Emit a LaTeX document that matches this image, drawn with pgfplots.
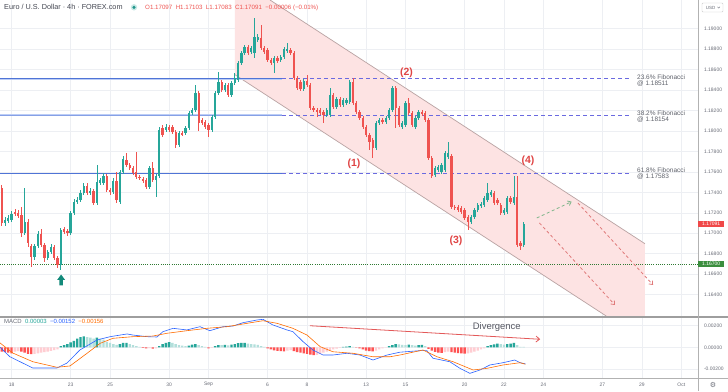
\documentclass[border=0pt]{standalone}
\usepackage{fontspec}
\setmainfont{Liberation Sans}
\newfontfamily\dejavu{DejaVu Sans}
\usepackage{pgfplots}
\pgfplotsset{compat=1.18}
\usepackage{pgfplotstable}
\usetikzlibrary{arrows.meta}
\definecolor{cup}{HTML}{26A69A}
\definecolor{cdn}{HTML}{EF5350}
\definecolor{hG}{HTML}{26A69A}
\definecolor{hg}{HTML}{B2DFDB}
\definecolor{hR}{HTML}{FF5252}
\definecolor{hr}{HTML}{FFCDD2}
\definecolor{macdblue}{HTML}{2962FF}
\definecolor{sigorange}{HTML}{FF6D00}
\definecolor{gridc}{HTML}{EDEFF3}
\definecolor{axtext}{HTML}{6A6D78}
\definecolor{pinkfill}{HTML}{FDE3E3}
\definecolor{chanline}{HTML}{B9A3A3}
\definecolor{fibsolid}{HTML}{4F74D6}
\definecolor{fibhalo}{HTML}{BCCDF6}
\definecolor{fibdash}{HTML}{6A6AE0}
\definecolor{labred}{HTML}{E04545}
\definecolor{tagred}{HTML}{F04848}
\definecolor{taggreen}{HTML}{3B8E3E}
\definecolor{suppgreen}{HTML}{2F7A33}
\definecolor{arrowgreen}{HTML}{138A7A}
\definecolor{projgreen}{HTML}{7FB58A}
\definecolor{projred}{HTML}{E07A7A}
\definecolor{hdrtext}{HTML}{434651}
\newcommand\fs[1]{\fontsize{#1}{#1}\selectfont}

\pgfplotstableread{
k o h l c
0 1.17442 1.17472 1.17071 1.17100
4 1.17208 1.17237 1.17169 1.17188
5 1.17198 1.17227 1.17149 1.17169
6 1.17178 1.17257 1.16963 1.17002
8 1.17110 1.17139 1.16865 1.16905
9 1.16875 1.16895 1.16670 1.16768
12 1.16993 1.17041 1.16865 1.16885
13 1.16885 1.16905 1.16719 1.16758
16 1.16865 1.16885 1.16738 1.16758
17 1.16758 1.16777 1.16660 1.16689
19 1.17041 1.17061 1.16993 1.17012
20 1.17022 1.17041 1.16973 1.17002
26 1.17462 1.17491 1.17374 1.17394
28 1.17413 1.17433 1.17276 1.17296
32 1.17560 1.17579 1.17403 1.17423
33 1.17423 1.17442 1.17374 1.17403
35 1.17511 1.17599 1.17296 1.17325
38 1.17716 1.17785 1.17648 1.17667
39 1.17667 1.17687 1.17618 1.17638
40 1.17638 1.17657 1.17570 1.17589
41 1.17599 1.17794 1.17530 1.17550
42 1.17550 1.17570 1.17521 1.17540
43 1.17530 1.17550 1.17491 1.17511
44 1.17521 1.17540 1.17433 1.17452
46 1.17638 1.17697 1.17501 1.17521
49 1.18029 1.18059 1.17941 1.17961
51 1.18039 1.18059 1.17990 1.18010
52 1.18039 1.18059 1.17971 1.17990
53 1.17990 1.18010 1.17834 1.17863
55 1.17980 1.18000 1.17951 1.17971
60 1.18372 1.18391 1.18000 1.18078
61 1.18107 1.18127 1.18059 1.18078
62 1.18088 1.18107 1.18019 1.18039
63 1.18059 1.18078 1.17941 1.18010
67 1.18479 1.18499 1.18381 1.18401
69 1.18450 1.18469 1.18332 1.18352
75 1.18821 1.18841 1.18743 1.18763
79 1.18909 1.19037 1.18792 1.18812
80 1.18812 1.18831 1.18753 1.18772
81 1.18792 1.18812 1.18675 1.18694
82 1.18694 1.18714 1.18645 1.18665
84 1.18714 1.18733 1.18665 1.18684
88 1.18792 1.18812 1.18743 1.18763
89 1.18763 1.18782 1.18499 1.18518
90 1.18518 1.18538 1.18401 1.18420
91 1.18479 1.18499 1.18391 1.18411
93 1.18489 1.18548 1.18430 1.18450
94 1.18450 1.18469 1.18205 1.18225
95 1.18225 1.18244 1.18186 1.18205
96 1.18205 1.18225 1.18137 1.18186
97 1.18205 1.18225 1.18156 1.18176
98 1.18186 1.18205 1.18078 1.18156
101 1.18352 1.18372 1.18215 1.18235
103 1.18313 1.18332 1.18235 1.18254
107 1.18479 1.18518 1.18254 1.18274
108 1.18274 1.18293 1.18166 1.18186
109 1.18186 1.18205 1.18107 1.18127
110 1.18127 1.18146 1.18019 1.18039
111 1.18039 1.18059 1.17941 1.17961
112 1.17961 1.17980 1.17814 1.17892
113 1.17912 1.17931 1.17736 1.17834
116 1.18107 1.18127 1.18068 1.18088
120 1.18420 1.18440 1.18029 1.18225
121 1.18225 1.18244 1.18039 1.18059
124 1.18274 1.18323 1.18156 1.18176
125 1.18176 1.18195 1.18039 1.18059
128 1.18186 1.18205 1.18146 1.18166
129 1.18176 1.18195 1.18088 1.18107
130 1.18107 1.18127 1.17716 1.17736
131 1.17736 1.17755 1.17540 1.17560
137 1.17755 1.17775 1.17237 1.17257
138 1.17257 1.17276 1.17227 1.17247
139 1.17257 1.17276 1.17208 1.17227
140 1.17247 1.17266 1.17188 1.17208
141 1.17227 1.17247 1.17129 1.17149
142 1.17159 1.17178 1.17032 1.17110
150 1.17394 1.17413 1.17276 1.17296
151 1.17325 1.17345 1.17276 1.17296
152 1.17276 1.17296 1.17178 1.17198
155 1.17345 1.17364 1.17286 1.17305
157 1.17354 1.17560 1.16865 1.16885
158 1.16905 1.16924 1.16836 1.16875
}\redc

\pgfplotstableread{
k o h l c
1 1.17100 1.17159 1.17071 1.17129
2 1.17120 1.17178 1.17100 1.17149
3 1.17129 1.17217 1.17110 1.17188
7 1.17002 1.17442 1.16983 1.17110
10 1.16768 1.16895 1.16738 1.16875
11 1.16875 1.17022 1.16856 1.16993
14 1.16758 1.16836 1.16738 1.16816
15 1.16816 1.16895 1.16797 1.16865
18 1.16689 1.17051 1.16640 1.17032
21 1.17002 1.17217 1.16983 1.17198
22 1.17198 1.17335 1.17178 1.17305
23 1.17305 1.17354 1.17286 1.17325
24 1.17325 1.17423 1.17305 1.17394
25 1.17394 1.17491 1.17374 1.17462
27 1.17394 1.17442 1.17374 1.17413
29 1.17296 1.17667 1.17276 1.17501
30 1.17491 1.17540 1.17472 1.17521
31 1.17491 1.17589 1.17472 1.17560
34 1.17403 1.17540 1.17384 1.17511
36 1.17305 1.17618 1.17286 1.17599
37 1.17599 1.17755 1.17579 1.17726
45 1.17452 1.17657 1.17433 1.17638
47 1.17521 1.17579 1.17354 1.17560
48 1.17560 1.18039 1.17540 1.18010
50 1.18010 1.18068 1.17990 1.18039
54 1.17863 1.18000 1.17843 1.17980
56 1.17980 1.18049 1.17961 1.18029
57 1.18029 1.18195 1.18010 1.18176
58 1.18176 1.18225 1.18156 1.18205
59 1.18205 1.18450 1.18186 1.18372
64 1.18010 1.18156 1.17990 1.18137
65 1.18137 1.18391 1.18117 1.18372
66 1.18372 1.18577 1.18352 1.18479
68 1.18401 1.18469 1.18381 1.18450
70 1.18352 1.18489 1.18332 1.18469
71 1.18469 1.18567 1.18450 1.18518
72 1.18499 1.18684 1.18479 1.18665
73 1.18665 1.18782 1.18645 1.18763
74 1.18763 1.18841 1.18743 1.18821
76 1.18772 1.18831 1.18753 1.18812
77 1.18763 1.19105 1.18714 1.18919
78 1.18890 1.18948 1.18870 1.18919
83 1.18665 1.18733 1.18567 1.18714
85 1.18694 1.18743 1.18675 1.18724
86 1.18724 1.18821 1.18704 1.18802
87 1.18782 1.18860 1.18763 1.18802
92 1.18411 1.18508 1.18391 1.18489
99 1.18156 1.18225 1.18137 1.18205
100 1.18156 1.18420 1.18137 1.18352
102 1.18235 1.18332 1.18215 1.18313
104 1.18254 1.18323 1.18235 1.18303
105 1.18274 1.18323 1.18254 1.18303
106 1.18283 1.18499 1.18264 1.18479
114 1.17834 1.18098 1.17814 1.18078
115 1.18078 1.18127 1.18059 1.18107
117 1.18088 1.18146 1.18068 1.18127
118 1.18127 1.18225 1.18107 1.18205
119 1.18205 1.18440 1.18186 1.18420
122 1.18039 1.18098 1.18019 1.18078
123 1.18059 1.18293 1.18039 1.18274
126 1.18039 1.18146 1.18019 1.18127
127 1.18127 1.18205 1.18107 1.18186
132 1.17570 1.17657 1.17550 1.17638
133 1.17618 1.17667 1.17599 1.17648
134 1.17599 1.17687 1.17579 1.17667
135 1.17618 1.17804 1.17599 1.17785
136 1.17746 1.17892 1.17726 1.17785
143 1.17110 1.17178 1.17090 1.17159
144 1.17159 1.17247 1.17139 1.17227
145 1.17227 1.17296 1.17208 1.17276
146 1.17266 1.17305 1.17247 1.17286
147 1.17276 1.17364 1.17257 1.17345
148 1.17325 1.17491 1.17305 1.17394
149 1.17374 1.17423 1.17354 1.17403
153 1.17198 1.17247 1.17178 1.17227
154 1.17208 1.17364 1.17188 1.17345
156 1.17296 1.17560 1.17276 1.17354
159 1.16885 1.17110 1.16865 1.17091
}\greenc

\pgfplotsset{
  cwick/.style={draw=none, mark=none, forget plot,
    error bars/.cd, y dir=both, y explicit, error mark=none,
    error bar style={solid, line width=0.6bp, draw=#1}},
  cbody/.style={draw=none, mark=none, forget plot,
    error bars/.cd, y dir=both, y explicit, error mark=none,
    error bar style={solid, line width=2.3bp, draw=#1}},
  hbar/.style={ybar, bar width=2.4bp, bar shift=0pt, draw=none, fill=#1, forget plot},
}

\begin{document}
\begin{tikzpicture}[x=1bp,y=1bp]
\useasboundingbox (0,0) rectangle (728,-391);
\fill[white] (0,0) rectangle (728,-391);

% ---------------- main price panel ----------------
\begin{axis}[
  at={(0bp,0bp)}, anchor=north west,
  scale only axis, width=698bp, height=316bp,
  xmin=-0.518, xmax=212.1,
  ymin=1.16190, ymax=1.19281,
  axis line style={draw=none},
  tick style={draw=none},
  xtick={3,21,33,51,63,81,93,111,123,141,153,165,183,195,207},
  xticklabel={\mbox{}},
  ytick={1.164,1.166,1.168,1.170,1.172,1.174,1.176,1.178,1.180,1.182,1.184,1.186,1.188,1.190},
  scaled y ticks=false,
  yticklabel pos=right,
  /pgf/number format/assume math mode=true,
  yticklabel={\pgfmathprintnumber[fixed,fixed zerofill,precision=5]{\tick}},
  yticklabel style={font=\fs{5}, text=axtext, anchor=west, xshift=2.5bp},
  grid=major,
  major grid style={gridc, line width=0.5bp},
]
% channel fill
\fill[pinkfill] (axis cs:71.06,1.19281) -- (axis cs:81.72,1.19281) -- (axis cs:195.95,1.16897)
  -- (axis cs:195.95,1.16190) -- (axis cs:184.13,1.16190) -- (axis cs:71.06,1.18550) -- cycle;
\addplot[chanline, line width=0.7bp, forget plot] coordinates {(81.72,1.19281) (195.95,1.16897)};
\addplot[chanline, line width=0.7bp, forget plot] coordinates {(71.06,1.18550) (184.13,1.16190)};

% Fibonacci levels
\addplot[fibhalo, line width=1.6bp, forget plot] coordinates {(-0.518,1.18511) (85.4,1.18511)};
\addplot[fibsolid, line width=0.6bp, forget plot] coordinates {(-0.518,1.18511) (85.4,1.18511)};
\addplot[fibhalo, line width=2bp, forget plot] coordinates {(-0.518,1.18154) (85.4,1.18154)};
\addplot[fibsolid!50!fibhalo, line width=0.5bp, forget plot] coordinates {(-0.518,1.18154) (85.4,1.18154)};
\addplot[fibhalo, line width=1.6bp, forget plot] coordinates {(-0.518,1.17583) (85.4,1.17583)};
\addplot[fibsolid, line width=0.6bp, forget plot] coordinates {(-0.518,1.17583) (85.4,1.17583)};
\addplot[fibdash, line width=0.7bp, dash pattern=on 4bp off 3bp, forget plot] coordinates {(85.4,1.18511) (191.4,1.18511)};
\addplot[fibdash, line width=0.7bp, dash pattern=on 4bp off 3bp, forget plot] coordinates {(85.4,1.18154) (191.4,1.18154)};
\addplot[fibdash, line width=0.7bp, dash pattern=on 4bp off 3bp, forget plot] coordinates {(85.4,1.17583) (191.4,1.17583)};
% support level
\addplot[suppgreen, line width=0.55bp, dash pattern=on 0.6bp off 1.6bp, forget plot] coordinates {(-0.518,1.16700) (212.1,1.16700)};

% candles
\addplot[cwick=cdn] table[x=k, y expr={(\thisrow{h}+\thisrow{l})/2}, y error expr={(\thisrow{h}-\thisrow{l})/2}] {\redc};
\addplot[cwick=cup] table[x=k, y expr={(\thisrow{h}+\thisrow{l})/2}, y error expr={(\thisrow{h}-\thisrow{l})/2}] {\greenc};
\addplot[cbody=cdn] table[x=k, y expr={(\thisrow{o}+\thisrow{c})/2}, y error expr={max(abs(\thisrow{o}-\thisrow{c})/2,0.000025)}] {\redc};
\addplot[cbody=cup] table[x=k, y expr={(\thisrow{o}+\thisrow{c})/2}, y error expr={max(abs(\thisrow{o}-\thisrow{c})/2,0.000025)}] {\greenc};

% labels
\node[font=\fs{6.5}, text=hdrtext!85, align=left, anchor=west, inner sep=0pt] at (axis cs:193.5,1.18496) {23.6\% Fibonacci\\[-0.6bp]@ 1.18511};
\node[font=\fs{6.5}, text=hdrtext!85, align=left, anchor=west, inner sep=0pt] at (axis cs:193.5,1.18144) {38.2\% Fibonacci\\[-0.6bp]@ 1.18154};
\node[font=\fs{6.5}, text=hdrtext!85, align=left, anchor=west, inner sep=0pt] at (axis cs:193.5,1.17582) {61.8\% Fibonacci\\[-0.6bp]@ 1.17583};
\node[font=\bfseries\fs{10.5}, text=labred] at (axis cs:107.3,1.17677) {(1)};
\node[font=\bfseries\fs{10.5}, text=labred] at (axis cs:123.3,1.18570) {(2)};
\node[font=\bfseries\fs{10.5}, text=labred] at (axis cs:138.4,1.16927) {(3)};
\node[font=\bfseries\fs{10.5}, text=labred] at (axis cs:160.3,1.17709) {(4)};

% up arrow at the low
\fill[arrowgreen] (axis cs:16.9,1.16543) -- (axis cs:18.1,1.16596) -- (axis cs:19.3,1.16543)
  -- (axis cs:18.6,1.16543) -- (axis cs:18.6,1.16489) -- (axis cs:17.6,1.16489) -- (axis cs:17.6,1.16543) -- cycle;

% projection arrows
\draw[projgreen, line width=0.8bp, dash pattern=on 3bp off 2.5bp, -{Straight Barb[length=3bp,width=5bp]}] (axis cs:163,1.17149) -- (axis cs:173.6,1.17308);
\draw[projred, line width=0.8bp, dash pattern=on 3bp off 2.5bp, -{Straight Barb[length=3bp,width=5bp]}] (axis cs:163.8,1.17100) -- (axis cs:186.8,1.16298);
\draw[projred, line width=0.8bp, dash pattern=on 3bp off 2.5bp, -{Straight Barb[length=3bp,width=5bp]}] (axis cs:175.5,1.17296) -- (axis cs:198.4,1.16494);

\coordinate (tagA) at (axis cs:212.1,1.17091);
\coordinate (tagB) at (axis cs:212.1,1.16700);
\end{axis}

% ---------------- MACD panel ----------------
\begin{axis}[
  at={(0bp,-318bp)}, anchor=north west,
  scale only axis, width=698bp, height=60bp,
  xmin=-0.518, xmax=212.1,
  ymin=-0.00283, ymax=0.0027,
  axis line style={draw=none},
  tick style={draw=none},
  xtick={3,21,33,51,63,81,93,111,123,141,153,165,183,195,207},
  xticklabels={18,23,25,30,Sep,6,8,13,15,20,22,24,27,29,Oct},
  xticklabel style={font=\fs{5}, text=axtext, anchor=center, yshift=-6.7bp},
  ytick={-0.002,0,0.002},
  scaled y ticks=false,
  yticklabel pos=right,
  /pgf/number format/assume math mode=true,
  yticklabel={\pgfmathprintnumber[fixed,fixed zerofill,precision=5]{\tick}},
  yticklabel style={font=\fs{5}, text=axtext, anchor=west, xshift=2.5bp},
  grid=major,
  major grid style={gridc, line width=0.5bp},
]
\addplot[hbar=hG] coordinates {(18,0.0001)(19,0.0002)(20,0.0003)(21,0.00045)(22,0.0006)(23,0.0008)(24,0.00095)(25,0.001)(29,0.0009)(36,0.0003)(37,0.0004)(38,0.00042)(48,0.0001)(49,0.0003)(50,0.0004)(51,0.00048)(57,0.00015)(58,0.00025)(59,0.0003)(65,0.0001)(66,0.0002)(68,0.00022)(70,0.00025)(71,0.0003)(72,0.00038)(73,0.0004)(74,0.00042)(104,0.00003)(105,0.00006)(106,0.0001)(118,0.0001)(119,0.0002)(120,0.0003)(124,0.00025)(127,0.0002)(128,0.00022)(148,0.0001)(149,0.0002)(150,0.00028)(151,0.00035)(154,0.0003)(155,0.00035)(156,0.0004)};
\addplot[hbar=hg] coordinates {(26,0.00095)(27,0.0009)(28,0.0008)(30,0.0008)(31,0.0007)(32,0.0005)(33,0.0004)(34,0.0003)(35,0.00022)(39,0.0003)(40,0.0002)(41,0.00012)(42,0.00005)(52,0.0004)(53,0.0003)(54,0.0002)(55,0.00015)(56,0.0001)(60,0.0002)(61,0.0001)(62,0.00003)(67,0.0002)(69,0.00018)(75,0.00035)(76,0.0003)(77,0.00028)(78,0.00022)(79,0.00012)(80,0.00005)(107,0.00005)(121,0.00028)(122,0.00022)(123,0.0002)(125,0.0002)(126,0.00015)(129,0.0001)(152,0.0003)(153,0.00025)(157,0.0002)(158,0.00005)(159,0.00003)};
\addplot[hbar=hR] coordinates {(0,-0.0004)(1,-0.00045)(2,-0.0005)(3,-0.00055)(6,-0.0004)(7,-0.0005)(8,-0.0006)(9,-0.00062)(43,-0.00005)(44,-0.0001)(46,-0.00012)(63,-0.0001)(81,-0.0001)(82,-0.0002)(83,-0.00028)(84,-0.00033)(85,-0.00035)(86,-0.00037)(89,-0.00035)(90,-0.00045)(91,-0.0005)(92,-0.00055)(93,-0.0006)(94,-0.00068)(95,-0.00072)(108,-0.00003)(109,-0.0001)(110,-0.0002)(111,-0.0003)(112,-0.00035)(113,-0.00038)(130,-0.00015)(131,-0.0003)(132,-0.00042)(133,-0.0005)(134,-0.00052)(137,-0.00045)(138,-0.0005)(139,-0.00054)(140,-0.00057)(141,-0.00058)};
\addplot[hbar=hr] coordinates {(4,-0.0004)(5,-0.00035)(10,-0.0006)(11,-0.00055)(12,-0.0005)(13,-0.00045)(14,-0.0004)(15,-0.00033)(16,-0.00025)(17,-0.00018)(45,-0.00008)(47,-0.0001)(64,-0.00005)(87,-0.0003)(88,-0.00025)(96,-0.0007)(97,-0.0006)(98,-0.0005)(99,-0.0004)(100,-0.0003)(101,-0.0002)(102,-0.00012)(103,-0.00005)(114,-0.0003)(115,-0.0002)(116,-0.0001)(117,-0.00003)(135,-0.00045)(136,-0.0004)(142,-0.00056)(143,-0.0005)(144,-0.0004)(145,-0.0003)(146,-0.0002)(147,-0.0001)};
% MACD line
\addplot[macdblue, line width=0.6bp, forget plot] coordinates {(-0.5,0.0000)(2.5,-0.00087)(9.5,-0.00191)(16.8,-0.00191)(19.9,-0.00145)(23.8,-0.00025)(29,0.00067)(33,0.00098)(38.2,0.00123)(40,0.00113)(44.3,0.00098)(47.3,0.00095)(49.1,0.00144)(52.2,0.00175)(56.4,0.0016)(60.4,0.0019)(63.4,0.00153)(67.4,0.0019)(70.5,0.00196)(73.5,0.00227)(77.8,0.00252)(79.6,0.00258)(82.6,0.00206)(86.9,0.0016)(88.7,0.00144)(91.8,0.00052)(94.8,-0.00025)(97.9,-0.00071)(100.9,-0.00071)(105.2,-0.00055)(109.1,-0.00071)(113.1,-0.00117)(117.4,-0.00071)(121.3,-0.00045)(127.4,-0.00031)(129.5,-0.00031)(131.4,-0.00101)(136.5,-0.00133)(139.6,-0.00194)(142.6,-0.0024)(145.7,-0.00209)(148.7,-0.00163)(152.7,-0.00142)(156.3,-0.00117)(157.9,-0.00142)(159.5,-0.00152)};
% signal line
\addplot[sigorange, line width=0.6bp, forget plot] coordinates {(-0.5,0.0004)(3.4,-0.00053)(9.5,-0.00133)(16.8,-0.00184)(20.8,-0.00172)(26,-0.00055)(30,0.00037)(33.9,0.00083)(40,0.00098)(46.1,0.00104)(50.3,0.00129)(56.4,0.00153)(62.5,0.00175)(68.6,0.0019)(74.7,0.00221)(79.6,0.00245)(83.9,0.00221)(88.7,0.00175)(93,0.00113)(97,0.00006)(100.9,-0.00041)(107,-0.00055)(113.1,-0.00087)(118.3,-0.00087)(121.3,-0.00071)(128.3,-0.00025)(132.6,-0.00087)(137.5,-0.00133)(143.6,-0.00209)(147.8,-0.00194)(152.7,-0.00163)(157.9,-0.00142)(159.5,-0.00156)};
% divergence
\draw[labred!90, line width=0.8bp, -{Straight Barb[length=3.5bp,width=6bp]}] (axis cs:93.9,0.00199) -- (axis cs:164,0.00074);
\node[font=\fs{9.5}, text=hdrtext!90] at (axis cs:150.8,0.00184) {Divergence};
\node[anchor=west, font=\fs{6}, inner sep=0pt] at (axis cs:0.7,0.00236) {\textcolor{axtext}{MACD}\ \ \textcolor{cup}{0.00003}\ \ \textcolor{macdblue}{−0.00152}\ \ \textcolor{sigorange}{−0.00156}};
\end{axis}

% ---------------- frame pieces ----------------
\draw[black!38, line width=1.6bp] (0,-316.8) -- (728,-316.8);
\draw[black!30, line width=0.7bp] (0,-378.3) -- (728,-378.3);
\draw[black!30, line width=0.7bp] (698,0) -- (698,-391);

% price tags
\node[fill=tagred, text=white, font=\fs{5}, anchor=west, inner xsep=1.5bp, inner ysep=0.4bp, minimum height=6.4bp, minimum width=26bp] at (tagA) {1.17091};
\node[fill=taggreen, text=white, font=\fs{5}, anchor=west, inner xsep=1.5bp, inner ysep=0.4bp, minimum height=6.4bp, minimum width=26bp] at (tagB) {1.16700};

% header
\node[anchor=west, font=\fs{7.3}, text=hdrtext, inner sep=0pt] at (4,-7.3) {Euro / U.S. Dollar · 4h · FOREX.com};
\fill[cup!25] (134,-7.3) circle (3.2);
\fill[cup!90!black] (134,-7.3) circle (1.7);
\node[anchor=west, font=\fs{6.2}, text=cdn, inner sep=0pt] at (145,-7.6) {O1.17097\ \ H1.17103\ \ L1.17083\ \ C1.17091\ \ −0.00006 (−0.01\%)};
% currency button
\draw[black!20, rounded corners=1bp, line width=0.4bp] (702,-3) rectangle (723,-12);
\node[font=\fs{4.5}, text=axtext, inner sep=0pt] at (710.5,-7.5) {USD};
\draw[axtext, line width=0.35bp] (717.5,-6.8) -- (718.7,-8.1) -- (719.9,-6.8);
% settings gear
\node[font=\dejavu\fs{7}, text=axtext, inner sep=0pt] at (713,-384.6) {⚙};
\end{tikzpicture}
\end{document}
